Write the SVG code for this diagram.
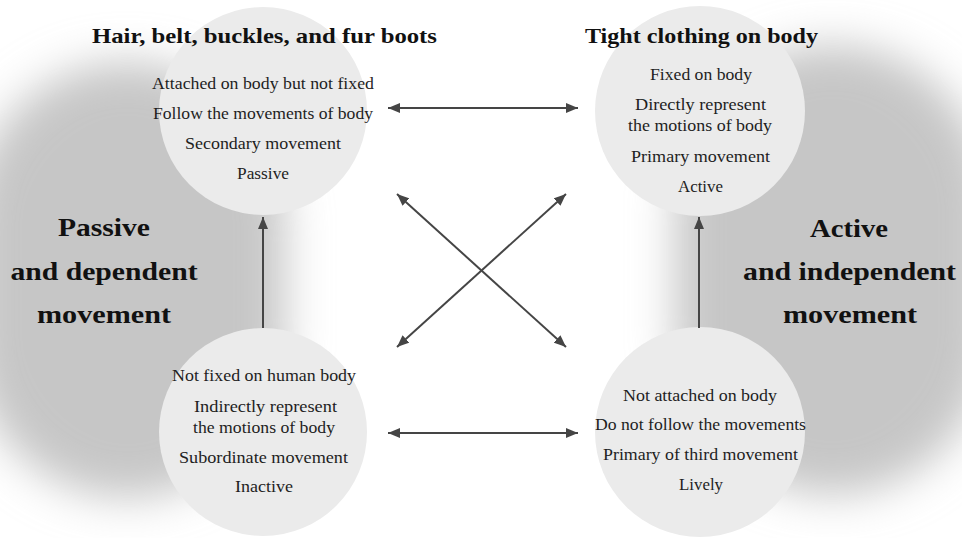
<svg xmlns="http://www.w3.org/2000/svg" width="962" height="538" viewBox="0 0 962 538">
<defs>
<style>
.t{font-family:"Liberation Serif","Times New Roman",serif;font-size:17px;fill:#1e1e1e;text-anchor:middle}
.h{font-family:"Liberation Serif","Times New Roman",serif;font-size:21px;font-weight:bold;fill:#111;text-anchor:middle}
.b{font-family:"Liberation Serif","Times New Roman",serif;font-size:26px;font-weight:bold;fill:#111;text-anchor:middle}
.c{fill:#ebebeb}
.a{stroke:#454545;stroke-width:2;fill:none;marker-end:url(#ah)}
.ab{marker-start:url(#ah)}
</style>
<filter id="blur" x="-50%" y="-50%" width="200%" height="200%"><feGaussianBlur stdDeviation="22"/></filter>
<marker id="ah" markerUnits="userSpaceOnUse" markerWidth="13" markerHeight="11" refX="12" refY="5" orient="auto-start-reverse" viewBox="0 0 13 10"><path d="M0,0 L12,5 L0,10 z" fill="#454545"/></marker>
</defs>
<rect width="962" height="538" fill="#fff"/>
<g id="bg-left"><rect x="-30" y="62" width="315" height="436" rx="160" fill="#c6c6c6" filter="url(#blur)"/></g>
<g id="bg-right"><rect x="675" y="45" width="315" height="450" rx="160" fill="#c6c6c6" filter="url(#blur)"/></g>
<g id="label-left">
<text class="b" x="104" y="236" textLength="92" lengthAdjust="spacingAndGlyphs">Passive</text>
<text class="b" x="104" y="280" textLength="187" lengthAdjust="spacingAndGlyphs">and dependent</text>
<text class="b" x="104" y="323" textLength="134" lengthAdjust="spacingAndGlyphs">movement</text>
</g>
<g id="label-right">
<text class="b" x="849" y="237" textLength="78" lengthAdjust="spacingAndGlyphs">Active</text>
<text class="b" x="849.5" y="280" textLength="213" lengthAdjust="spacingAndGlyphs">and independent</text>
<text class="b" x="850" y="323" textLength="134" lengthAdjust="spacingAndGlyphs">movement</text>
</g>
<g id="node-tl">
<circle class="c" cx="263" cy="111" r="104"/>
<text class="h" x="264.5" y="43" textLength="345" lengthAdjust="spacingAndGlyphs">Hair, belt, buckles, and fur boots</text>
<text class="t" x="263" y="89" textLength="222" lengthAdjust="spacingAndGlyphs">Attached on body but not fixed</text>
<text class="t" x="263" y="119" textLength="220" lengthAdjust="spacingAndGlyphs">Follow the movements of body</text>
<text class="t" x="263" y="149" textLength="156" lengthAdjust="spacingAndGlyphs">Secondary movement</text>
<text class="t" x="263" y="179" textLength="52" lengthAdjust="spacingAndGlyphs">Passive</text>
</g>
<g id="node-tr">
<circle class="c" cx="700" cy="111" r="105"/>
<text class="h" x="701.5" y="43" textLength="233" lengthAdjust="spacingAndGlyphs">Tight clothing on body</text>
<text class="t" x="701" y="80" textLength="102" lengthAdjust="spacingAndGlyphs">Fixed on body</text>
<text class="t" x="700.5" y="110" textLength="131" lengthAdjust="spacingAndGlyphs">Directly represent</text>
<text class="t" x="700" y="131" textLength="144" lengthAdjust="spacingAndGlyphs">the motions of body</text>
<text class="t" x="700.5" y="162" textLength="139" lengthAdjust="spacingAndGlyphs">Primary movement</text>
<text class="t" x="700.5" y="192" textLength="45" lengthAdjust="spacingAndGlyphs">Active</text>
</g>
<g id="node-bl">
<circle class="c" cx="263" cy="432" r="104"/>
<text class="t" x="264" y="381" textLength="184" lengthAdjust="spacingAndGlyphs">Not fixed on human body</text>
<text class="t" x="265.5" y="412" textLength="143" lengthAdjust="spacingAndGlyphs">Indirectly represent</text>
<text class="t" x="264" y="433" textLength="142" lengthAdjust="spacingAndGlyphs">the motions of body</text>
<text class="t" x="263.5" y="463" textLength="169" lengthAdjust="spacingAndGlyphs">Subordinate movement</text>
<text class="t" x="264" y="492" textLength="58" lengthAdjust="spacingAndGlyphs">Inactive</text>
</g>
<g id="node-br">
<circle class="c" cx="700" cy="432" r="105"/>
<text class="t" x="700" y="401" textLength="154" lengthAdjust="spacingAndGlyphs">Not attached on body</text>
<text class="t" x="700.5" y="430" textLength="211" lengthAdjust="spacingAndGlyphs">Do not follow the movements</text>
<text class="t" x="700.5" y="460" textLength="195" lengthAdjust="spacingAndGlyphs">Primary of third movement</text>
<text class="t" x="701" y="490" textLength="44" lengthAdjust="spacingAndGlyphs">Lively</text>
</g>
<g id="connectors">
<line class="a ab" x1="388" y1="108" x2="578" y2="108"/>
<line class="a ab" x1="388" y1="433" x2="578" y2="433"/>
<line class="a ab" x1="397" y1="194" x2="566" y2="347"/>
<line class="a ab" x1="566" y1="194" x2="397" y2="347"/>
<line class="a" x1="263" y1="328" x2="263" y2="217"/>
<line class="a" x1="699" y1="328" x2="699" y2="217"/>
</g>
</svg>
